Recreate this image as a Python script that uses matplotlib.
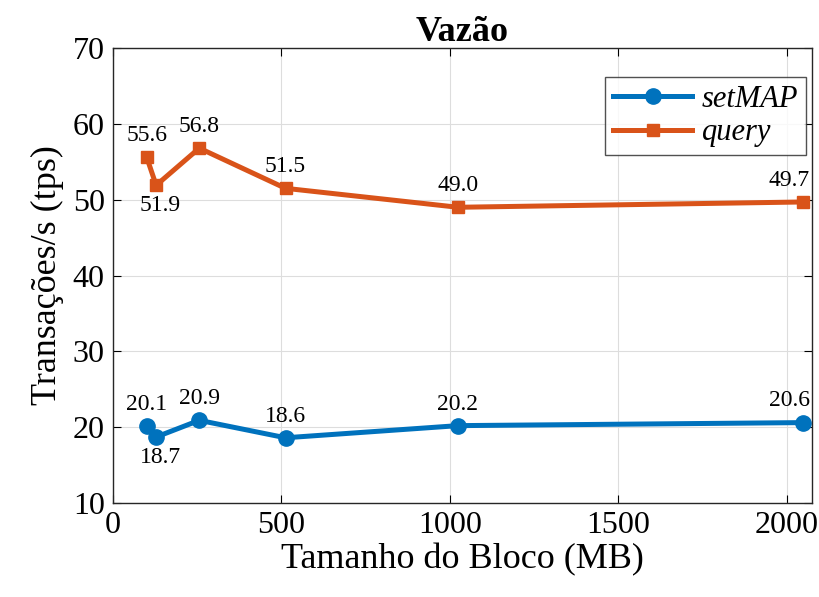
import matplotlib
matplotlib.use("Agg")
import matplotlib.pyplot as plt

# Data
block_sizes = [100, 128, 256, 512, 1024, 2048]
setmap_tps = [20.1, 18.7, 20.9, 18.6, 20.2, 20.6]
query_tps = [55.6, 51.9, 56.8, 51.5, 49.0, 49.7]
setmap_label_pos = ["above", "below", "above", "above", "above", "above"]
query_label_pos = ["above", "below", "above", "above", "above", "above"]

plt.rcParams['font.family'] = ['Liberation Serif', 'DejaVu Serif']

blue = "#0072BD"
orange = "#D95319"

fig = plt.figure(figsize=(8.19, 5.97), dpi=100)
ax = fig.add_axes([0.138, 0.1575, 0.8535, 0.762])

ax.plot(block_sizes, setmap_tps, color=blue, linewidth=3.6, marker='o',
        markersize=11, label='setMAP')
ax.plot(block_sizes, query_tps, color=orange, linewidth=3.6, marker='s',
        markersize=9, markerfacecolor=orange, label='query')


def annotate(xs, ys, where):
    last = len(xs) - 1
    for i, (x, y, w) in enumerate(zip(xs, ys, where)):
        if w == "above":
            # last label is pulled left so it stays inside the box
            if i == last:
                ax.annotate(f"{y:.1f}", (x, y), xytext=(5, 8), textcoords='offset points',
                            ha='right', va='bottom', fontsize=17)
            else:
                ax.annotate(f"{y:.1f}", (x, y), xytext=(0, 8), textcoords='offset points',
                            ha='center', va='bottom', fontsize=17)
        else:
            ax.annotate(f"{y:.1f}", (x, y), xytext=(3, -7), textcoords='offset points',
                        ha='center', va='top', fontsize=17)


annotate(block_sizes, setmap_tps, setmap_label_pos)
annotate(block_sizes, query_tps, query_label_pos)

ax.set_xlim(0, 2075)
ax.set_ylim(10, 70)
ax.set_xticks([0, 500, 1000, 1500, 2000])
ax.set_yticks([10, 20, 30, 40, 50, 60, 70])
ax.tick_params(direction='in', labelsize=23, length=6, top=True, right=True, pad=6)
ax.grid(True, color='#dddddd', linewidth=0.8)
ax.set_axisbelow(True)
for s in ax.spines.values():
    s.set_linewidth(1.0)
    s.set_color('#262626')

ax.set_xlabel("Tamanho do Bloco (MB)", fontsize=26, labelpad=2)
ax.set_ylabel("Transações/s (tps)", fontsize=26, labelpad=6)
ax.set_title("Vazão", fontsize=26, fontweight='bold', pad=5)

leg = ax.legend(loc='upper right', bbox_to_anchor=(0.991, 0.936),
                prop={'style': 'italic', 'size': 22}, fancybox=False, edgecolor='#262626',
                handlelength=2.6, borderpad=0.25, labelspacing=0.15, handletextpad=0.3,
                borderaxespad=0)
leg.get_frame().set_linewidth(1.0)

fig.savefig("out.png", dpi=100)
